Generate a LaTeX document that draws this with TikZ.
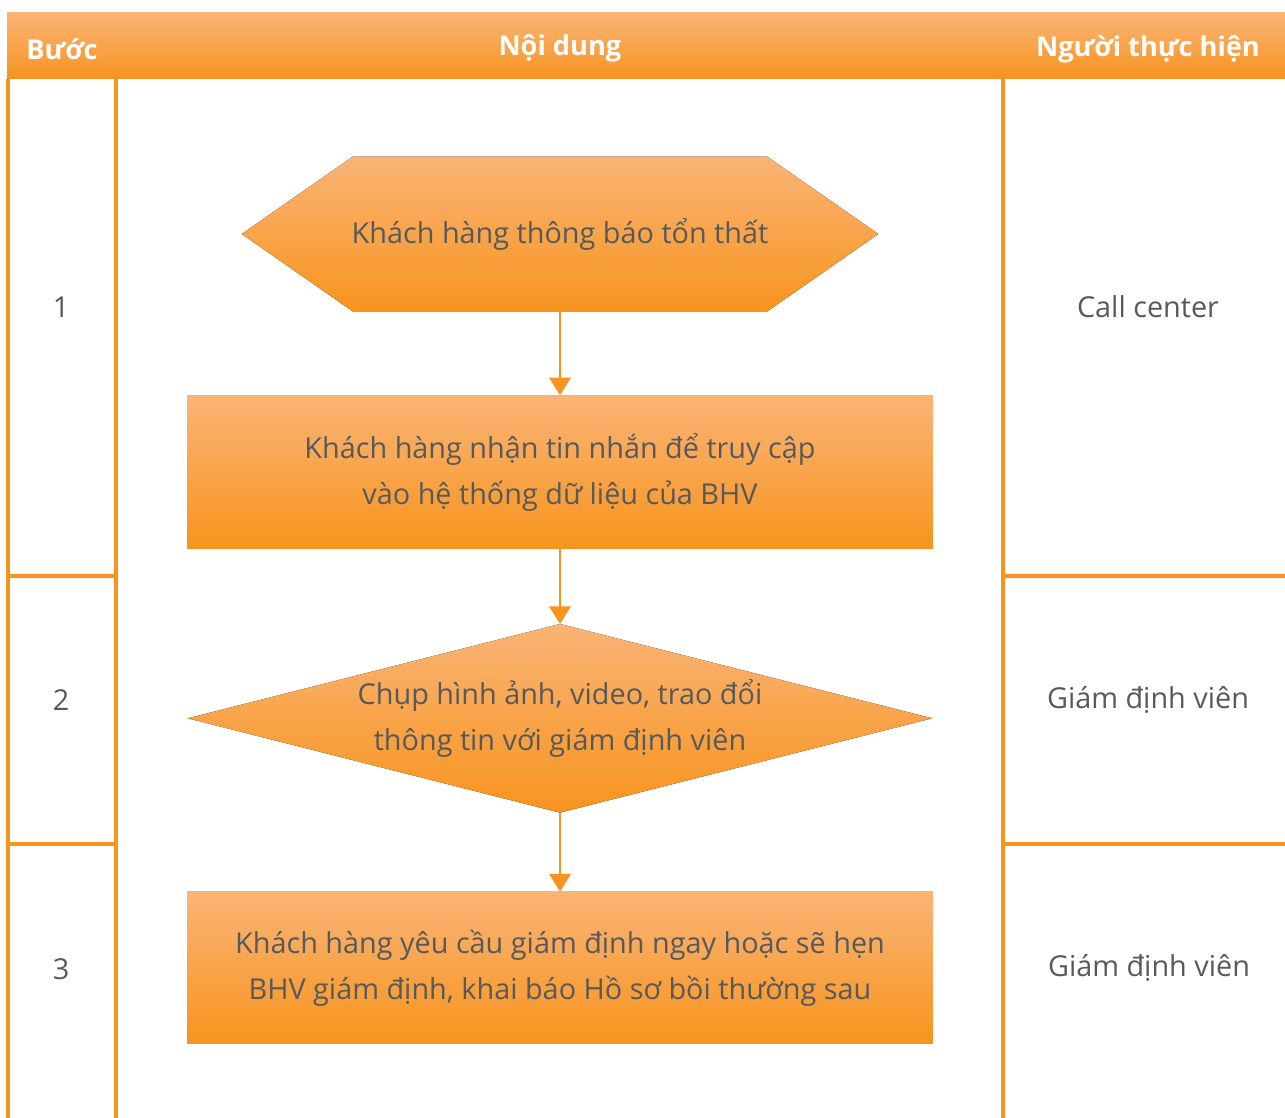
\documentclass[tikz,border=0pt]{standalone}
\usepackage{fontspec}
\setmainfont{Open Sans}
\usetikzlibrary{positioning,arrows.meta,backgrounds}

\definecolor{bhvorange}{RGB}{247,148,30}
\definecolor{bhvlight}{RGB}{250,180,118}
\definecolor{bhvtext}{RGB}{88,89,91}

\tikzset{
  gridline/.style = {draw=bhvorange, line width=1.8pt},
  hdr/.style = {text=white, font=\bfseries\fontsize{15.5}{18}\selectfont},
  cell/.style = {text=bhvtext, font=\fontsize{16.4}{19}\selectfont},
  orangefill/.style = {top color=bhvlight, bottom color=bhvorange, draw=none},
  flowtext/.style = {inner sep=0pt, align=center, text=bhvtext,
    font=\fontsize{16.4}{26}\selectfont},
  flowarrow/.style = {draw=bhvorange, line width=1.7pt,
    -{Triangle[width=12pt,length=10pt]}},
}

\begin{document}
\begin{tikzpicture}[x=0.02cm, y=-0.02cm]
    \useasboundingbox (0,0) rectangle (1285,1118);

    % header band
    \fill[orangefill] (7,13) rectangle (1285,79);
    \node[hdr] (hstep) at (62,49) {Bước};
    \node[hdr] (hcontent) at (560,48) {Nội dung};
    \node[hdr] (hwho) at (1148,49) {Người thực hiện};

    % table lines
    \draw[gridline] (8,79) -- (8,1118);
    \draw[gridline] (116,79) -- (116,1118);
    \draw[gridline] (1003,79) -- (1003,1118);
    \draw[gridline] (8,576) -- (116,576) (8,844) -- (116,844);
    \draw[gridline] (1003,576) -- (1285,576) (1003,844) -- (1285,844);

    % steps and actors
    \node[cell] (s1) at (61,307) {1};
    \node[cell] (s2) at (61,700) {2};
    \node[cell] (s3) at (61,969) {3};
    \node[cell] (w1) at (1148,307) {Call center};
    \node[cell] (w2) at (1148,700) {Giám định viên};
    \node[cell] (w3) at (1149,968) {Giám định viên};

    % flow
    \node[flowtext, minimum width=12.72cm, minimum height=3.08cm] (hex) at (560,234)
      {Khách hàng thông báo tổn thất};
    \node[flowtext, orangefill, minimum width=14.92cm, minimum height=3.06cm,
      below=1.68cm of hex] (box1)
      {Khách hàng nhận tin nhắn để truy cập\\vào hệ thống dữ liệu của BHV};
    \node[flowtext, minimum width=14.88cm, minimum height=3.76cm,
      below=1.5cm of box1] (diam)
      {Chụp hình ảnh, video, trao đổi\\thông tin với giám định viên};
    \node[flowtext, orangefill, minimum width=14.92cm, minimum height=3.04cm,
      below=1.58cm of diam] (box2)
      {Khách hàng yêu cầu giám định ngay hoặc sẽ hẹn\\BHV giám định, khai báo Hồ sơ bồi thường sau};

    \begin{scope}[on background layer]
      \fill[orangefill] (hex.west) -- ([xshift=2.22cm]hex.north west)
        -- ([xshift=-2.22cm]hex.north east) -- (hex.east)
        -- ([xshift=-2.22cm]hex.south east) -- ([xshift=2.22cm]hex.south west) -- cycle;
      \fill[orangefill] (diam.west) -- (diam.north) -- (diam.east) -- (diam.south) -- cycle;
    \end{scope}

    \draw[flowarrow] (hex.south) -- (box1.north);
    \draw[flowarrow] (box1.south) -- (diam.north);
    \draw[flowarrow] (diam.south) -- (box2.north);
\end{tikzpicture}
\end{document}
